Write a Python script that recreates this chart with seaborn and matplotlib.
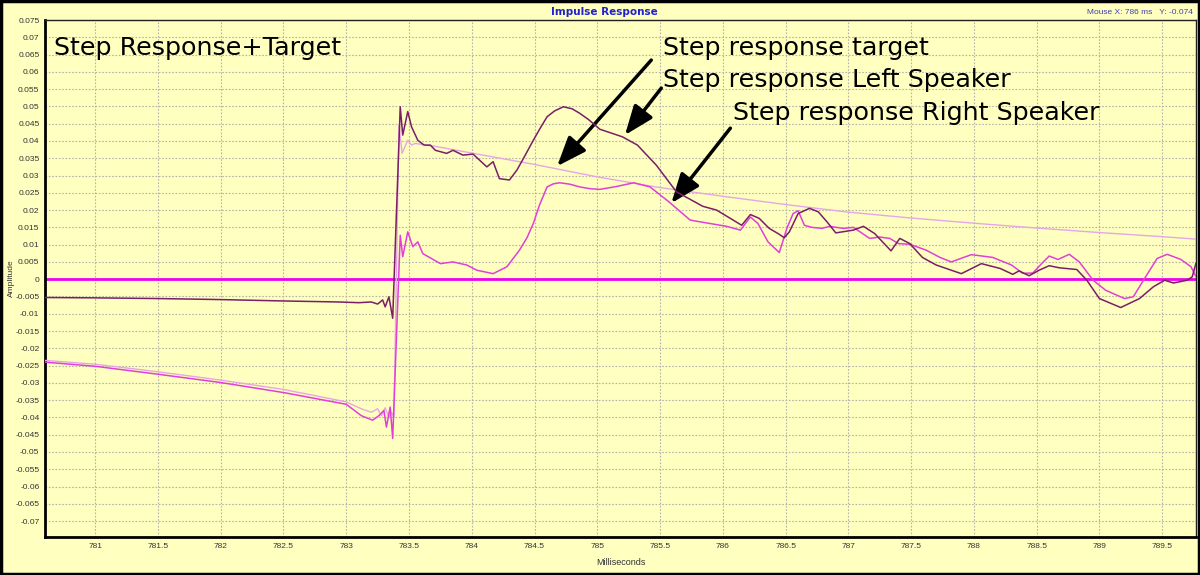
import numpy as np
import pandas as pd
import matplotlib
matplotlib.use("Agg")
import matplotlib.pyplot as plt
import seaborn as sns
from matplotlib.patches import Rectangle
from matplotlib.ticker import FuncFormatter

# ---------------------------
# Data
# ---------------------------
target_ms = [780.6, 781.0, 781.5, 782.0, 782.5, 783.0, 783.12, 783.2, 783.25, 783.28,
             783.31, 783.34, 783.36, 783.38, 783.42, 783.445, 783.49, 783.52, 783.55,
             783.6, 783.7, 784.0, 784.5, 785.0, 785.5, 786.0, 786.5, 787.0, 787.5,
             788.0, 788.5, 789.0, 789.5, 789.77]
target_amp = [-0.0235, -0.0246, -0.0268, -0.0292, -0.0319, -0.0355, -0.0375, -0.0385,
              -0.0375, -0.0395, -0.0372, -0.0400, -0.0385, -0.0400, 0.0446, 0.0364,
              0.0402, 0.0388, 0.0393, 0.0390, 0.0385, 0.0365, 0.0332, 0.0296, 0.0265,
              0.0240, 0.0216, 0.0194, 0.0177, 0.0162, 0.0148, 0.0135, 0.0123, 0.0116]

left_ms = [780.6, 781.0, 781.5, 782.0, 782.5, 782.95, 783.1, 783.2, 783.25, 783.29,
           783.31, 783.34, 783.37, 783.43, 783.45, 783.49, 783.52, 783.57, 783.62,
           783.67, 783.71, 783.8, 783.85, 783.93, 784.01, 784.12, 784.17, 784.22,
           784.30, 784.36, 784.42, 784.49, 784.55, 784.60, 784.66, 784.73, 784.80,
           784.86, 784.93, 785.02, 785.20, 785.32, 785.47, 785.63, 785.74, 785.84,
           785.95, 786.06, 786.15, 786.22, 786.29, 786.37, 786.44, 786.49, 786.53,
           786.60, 786.69, 786.76, 786.83, 786.90, 787.04, 787.12, 787.21, 787.34,
           787.41, 787.49, 787.59, 787.70, 787.90, 788.06, 788.21, 788.31, 788.36,
           788.44, 788.52, 788.60, 788.68, 788.82, 788.90, 789.00, 789.17, 789.32,
           789.43, 789.52, 789.59, 789.70, 789.74, 789.77]
left_amp = [-0.0053, -0.0054, -0.0056, -0.0059, -0.0063, -0.0066, -0.0068, -0.0066,
            -0.0072, -0.0060, -0.0080, -0.0051, -0.0113, 0.0499, 0.0417, 0.0485,
            0.0441, 0.0402, 0.0388, 0.0388, 0.0373, 0.0364, 0.0373, 0.0359, 0.0362,
            0.0325, 0.0340, 0.0291, 0.0287, 0.0316, 0.0355, 0.0402, 0.0440, 0.0470,
            0.0487, 0.0499, 0.0493, 0.0480, 0.0462, 0.0434, 0.0412, 0.0388, 0.0330,
            0.0253, 0.0231, 0.0211, 0.0200, 0.0176, 0.0156, 0.0187, 0.0176, 0.0147,
            0.0132, 0.0120, 0.0137, 0.0190, 0.0205, 0.0195, 0.0166, 0.0134, 0.0142,
            0.0153, 0.0132, 0.0082, 0.0118, 0.0103, 0.0063, 0.0041, 0.0016, 0.0045,
            0.0031, 0.0014, 0.0024, 0.0010, 0.0026, 0.0039, 0.0033, 0.0028, -0.0003,
            -0.0056, -0.0082, -0.0056, -0.0022, -0.0003, -0.0011, -0.0003, 0.0007,
            0.0047]

right_ms = [780.6, 781.0, 781.5, 782.0, 782.5, 783.0, 783.12, 783.21, 783.26, 783.30,
            783.32, 783.35, 783.37, 783.43, 783.45, 783.49, 783.53, 783.57, 783.61,
            783.75, 783.85, 783.96, 784.04, 784.17, 784.28, 784.38, 784.44, 784.49,
            784.54, 784.60, 784.65, 784.70, 784.78, 784.86, 784.94, 785.02, 785.15,
            785.29, 785.42, 785.57, 785.74, 785.90, 786.03, 786.14, 786.22, 786.28,
            786.36, 786.45, 786.51, 786.56, 786.60, 786.65, 786.71, 786.79, 786.85,
            786.96, 787.04, 787.17, 787.25, 787.33, 787.40, 787.49, 787.62, 787.73,
            787.82, 787.98, 788.15, 788.30, 788.39, 788.47, 788.54, 788.60, 788.67,
            788.76, 788.84, 788.95, 789.05, 789.20, 789.27, 789.36, 789.46, 789.54,
            789.65, 789.73, 789.77]
right_amp = [-0.0240, -0.0252, -0.0275, -0.0299, -0.0328, -0.0362, -0.0395, -0.0408,
             -0.0395, -0.0380, -0.0428, -0.0370, -0.0461, 0.0127, 0.0065, 0.0137,
             0.0094, 0.0108, 0.0074, 0.0045, 0.0050, 0.0041, 0.0026, 0.0016, 0.0036,
             0.0084, 0.0120, 0.0161, 0.0215, 0.0267, 0.0276, 0.0279, 0.0275, 0.0267,
             0.0262, 0.0260, 0.0268, 0.0279, 0.0267, 0.0224, 0.0171, 0.0161, 0.0153,
             0.0142, 0.0180, 0.0161, 0.0108, 0.0077, 0.0147, 0.0190, 0.0198, 0.0156,
             0.0150, 0.0147, 0.0153, 0.0147, 0.0150, 0.0118, 0.0122, 0.0118, 0.0103,
             0.0101, 0.0084, 0.0063, 0.0050, 0.0071, 0.0063, 0.0041, 0.0017, 0.0018,
             0.0045, 0.0067, 0.0057, 0.0072, 0.0050, -0.0003, -0.0032, -0.0056,
             -0.0051, 0.0002, 0.0060, 0.0072, 0.0057, 0.0036, 0.0007]

x_ticks = [781, 781.5, 782, 782.5, 783, 783.5, 784, 784.5, 785, 785.5,
           786, 786.5, 787, 787.5, 788, 788.5, 789, 789.5]
y_ticks = np.round(np.arange(-0.07, 0.0751, 0.005), 3)

# ---------------------------
# Style
# ---------------------------
bg = "#FFFFC0"
sns.set_style("white", {"axes.facecolor": bg, "figure.facecolor": bg})
plt.rcParams['font.family'] = ['DejaVu Sans']

fig = plt.figure(figsize=(12, 5.75), dpi=100)
ax = fig.add_axes([0.0375, 0.0661, 0.9592, 0.8991])

# ---------------------------
# Traces
# ---------------------------
ax.axhline(0, color="#F000F0", lw=2, zorder=2)
sns.lineplot(x=target_ms, y=target_amp, ax=ax, color="#E6A6E6", lw=1, sort=False, zorder=3)
sns.lineplot(x=right_ms, y=right_amp, ax=ax, color="#E040D8", lw=1.1, sort=False, zorder=4)
sns.lineplot(x=left_ms, y=left_amp, ax=ax, color="#7A1E68", lw=1.1, sort=False, zorder=5)

ax.set_xlim(780.6, 789.77)
ax.set_ylim(-0.0746, 0.075)
ax.set_xticks(x_ticks)
ax.set_yticks(y_ticks)
ax.xaxis.set_major_formatter(FuncFormatter(lambda v, p: f"{v:g}"))
ax.yaxis.set_major_formatter(FuncFormatter(lambda v, p: f"{v:g}" if abs(v) > 1e-9 else "0"))
ax.tick_params(length=0, labelsize=6, labelcolor="#333333", pad=4)
for lab in ax.get_xticklabels() + ax.get_yticklabels():
    lab.set_family("Liberation Sans")
ax.grid(True, color="#B4B4A8", ls=(0, (1.5, 1.5)), lw=0.8)
ax.set_axisbelow(True)

for side in ["left", "bottom"]:
    ax.spines[side].set_linewidth(2)
    ax.spines[side].set_color("black")
for side in ["top", "right"]:
    ax.spines[side].set_linewidth(1)
    ax.spines[side].set_color("#202020")

ax.set_xlabel("Milliseconds", fontsize=6.5, color="#333333", family="Liberation Sans")
ax.xaxis.set_label_coords(0.5, -0.04)
ax.set_ylabel("Amplitude", fontsize=6, color="#333333", family="Liberation Sans")
ax.yaxis.set_label_coords(-0.026, 0.5)

# ---------------------------
# Titles and annotations
# ---------------------------
fig.text(0.504, 0.988, "Impulse Response", ha="center", va="top", fontsize=7.5,
         color="#2020D0", fontweight="bold")
fig.text(0.994, 0.985, "Mouse X: 786 ms   Y: -0.074", ha="right", va="top",
         fontsize=6, color="#4040B0", family="Liberation Sans")

ax.text(0.008, 0.945, "Step Response+Target", transform=ax.transAxes,
        fontsize=18.3, va="center", ha="left", color="black")

label_kw = dict(fontsize=18.3, va="center", ha="left", color="black")
ax.text(785.52, 0.0669, "Step response target", **label_kw)
ax.text(785.52, 0.0576, "Step response Left Speaker", **label_kw)
ax.text(786.08, 0.0481, "Step response Right Speaker", **label_kw)

arrow_kw = dict(arrowstyle="-|>,head_length=1.8,head_width=0.7", color="black", lw=2.5,
                shrinkA=0, shrinkB=0)
ax.annotate("", xy=(784.68, 0.0327), xytext=(785.43, 0.0634), arrowprops=arrow_kw)
ax.annotate("", xy=(785.22, 0.0417), xytext=(785.51, 0.0553), arrowprops=arrow_kw)
ax.annotate("", xy=(785.59, 0.0220), xytext=(786.06, 0.0437), arrowprops=arrow_kw)

# outer frame
fig.patches.append(Rectangle((0.001, 0.002), 0.998, 0.996, transform=fig.transFigure,
                             fill=False, edgecolor="black", lw=2.5))

fig.savefig("out.png", dpi=100, facecolor=bg)
